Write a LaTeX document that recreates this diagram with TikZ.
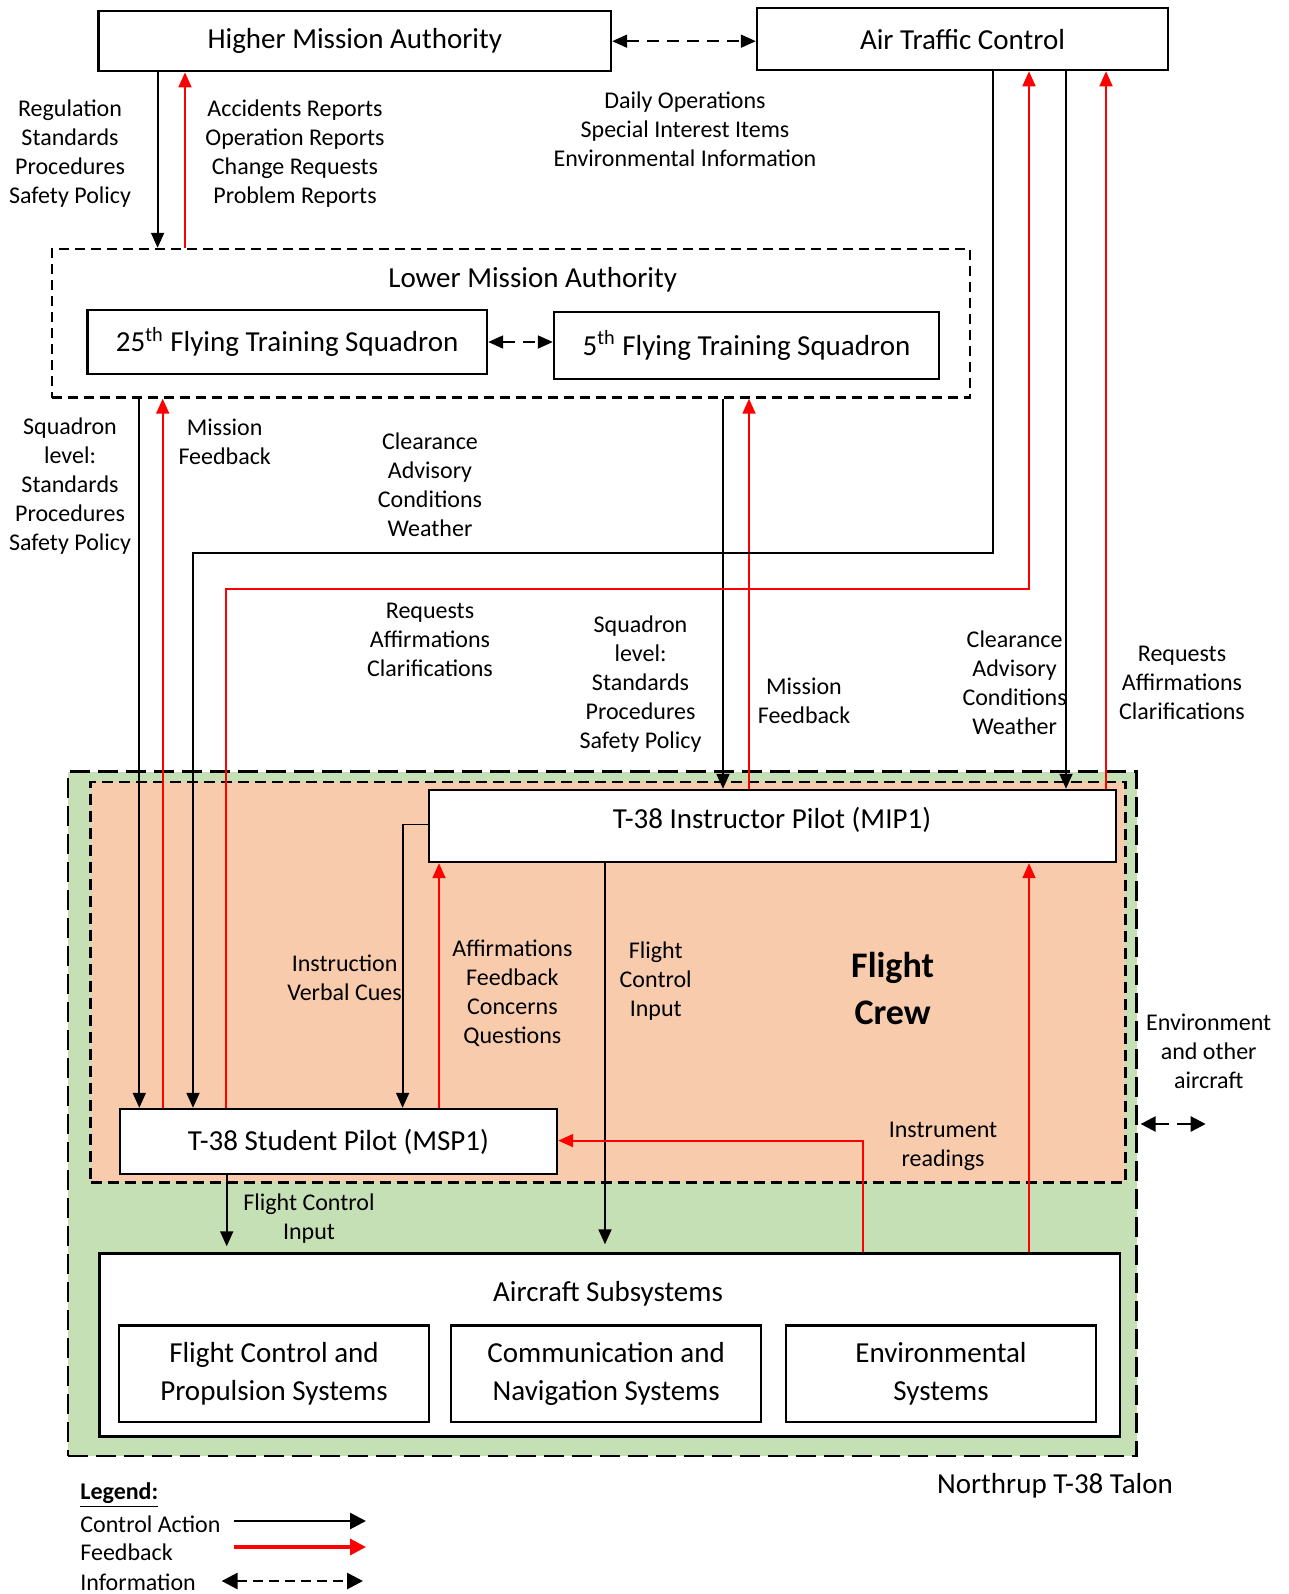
\documentclass[tikz,border=0pt]{standalone}
\usepackage{fontspec}
\setmainfont{Carlito}
\usetikzlibrary{arrows.meta}
\definecolor{crewfill}{RGB}{248,203,173}
\definecolor{craftfill}{RGB}{197,224,180}
\definecolor{fbred}{RGB}{255,0,0}
\begin{document}
\begin{tikzpicture}[x=0.5pt,y=-0.5pt,
  box/.style={draw, line width=1.2pt, fill=white, inner sep=0pt, font=\fontsize{14.5}{19}\selectfont, align=center},
  region/.style={draw, line width=1.2pt, dash pattern=on 5pt off 3pt, inner sep=0pt},
  lbl/.style={font=\fontsize{12}{14.5}\selectfont, align=center, inner sep=0pt},
  big/.style={font=\fontsize{14.5}{19}\selectfont, align=center, inner sep=0pt},
  ctrl/.style={draw=black, line width=0.9pt, -{Triangle[length=7.5pt,width=6.5pt]}},
  fb/.style={draw=fbred, fbred, line width=0.9pt, -{Triangle[length=7.5pt,width=6.5pt]}},
  info/.style={draw=black, line width=0.9pt, dash pattern=on 6pt off 4pt,
    {Triangle[length=7.5pt,width=6.5pt]}-{Triangle[length=7.5pt,width=6.5pt]}},
  envinfo/.style={draw=black, line width=1.2pt, dash pattern=on 7pt off 4pt,
    {Triangle[length=7.5pt,width=7.5pt]}-{Triangle[length=7.5pt,width=7.5pt]}},
  lgctrl/.style={draw=black, line width=1.4pt, -{Triangle[length=8pt,width=8pt]}},
  lgfb/.style={draw=fbred, fbred, line width=1.6pt, -{Triangle[length=8pt,width=8pt]}},
  lginfo/.style={draw=black, line width=1.4pt, dash pattern=on 5pt off 3pt,
    {Triangle[length=8pt,width=8pt]}-{Triangle[length=8pt,width=8pt]}},
]
\useasboundingbox (0,0) rectangle (1289,1594);

% ---- aircraft and crew regions ----
\node[region, dash pattern=on 10pt off 4pt, fill=craftfill, minimum width=534.3pt, minimum height=342.2pt] (grn) at (602.3,1113.8) {};
\node[region, dash pattern=on 5.5pt off 3pt, fill=crewfill, minimum width=517.45pt, minimum height=200.25pt] (crew) at (607.95,982.05) {};

% ---- authorities ----
\node[box, minimum width=256.2pt, minimum height=30pt] (hma) at (354.8,41.2) {Higher Mission Authority};
\node[box, minimum width=205.5pt, minimum height=31pt] (atc) at (962.5,39.1) {Air Traffic Control};
\node[region, minimum width=459.1pt, minimum height=74.25pt] (lma) at (510.9,323.25) {};
\node[big] (lmat) at (532.7,279.5) {Lower Mission Authority};
\node[box, minimum width=199.8pt, minimum height=32pt] (f25) at (287.2,342) {25\textsuperscript{th} Flying Training Squadron};
\node[box, minimum width=192.5pt, minimum height=33.5pt] (f5) at (746.5,345.5) {5\textsuperscript{th} Flying Training Squadron};

% ---- pilots ----
\node[box, minimum width=343.5pt, minimum height=36pt] (ins) at (772.5,826) {};
\node[big] (inst) at (772,820) {T-38 Instructor Pilot (MIP1)};
\node[box, minimum width=218.5pt, minimum height=32.5pt] (stu) at (338.5,1141.5) {T-38 Student Pilot (MSP1)};
\node[font=\bfseries\fontsize{18}{23.5}\selectfont, align=center, inner sep=0pt] (fc) at (892.6,988) {Flight\\Crew};

% ---- aircraft subsystems ----
\node[box, minimum width=510.2pt, minimum height=91.5pt] (acs) at (609.8,1345) {};
\node[big] (acst) at (608,1294) {Aircraft Subsystems};
\node[box, minimum width=155pt, minimum height=48.2pt] (fcp) at (274,1373.8) {Flight Control and\\Propulsion Systems};
\node[box, minimum width=155pt, minimum height=48.2pt] (cns) at (606.2,1373.8) {Communication and\\Navigation Systems};
\node[box, minimum width=155pt, minimum height=48.2pt] (env) at (941,1373.8) {Environmental\\Systems};

% ---- connectors between authorities ----
\draw[info] (hma.east) -- (atc.west |- hma.east);
\draw[info] (f25.east) -- (f5.west |- f25.east);
\draw[ctrl] (hma.south -| 157.6,0) -- (lma.north -| 157.6,0);
\draw[fb] (lma.north -| 185,0) -- (hma.south -| 185,0);

% ---- lower authority to pilots ----
\draw[ctrl] (lma.south -| 139.3,0) -- (stu.north -| 139.3,0);
\draw[fb] (stu.north -| 162.7,0) -- (lma.south -| 162.7,0);
\draw[ctrl] (lma.south -| 723,0) -- (ins.north -| 723,0);
\draw[fb] (ins.north -| 749,0) -- (lma.south -| 749,0);

% ---- air traffic control to pilots ----
\draw[ctrl] (atc.south -| 993,0) -- (993,553) -- (193,553) -- (stu.north -| 193,0);
\draw[fb] (stu.north -| 225.7,0) -- (225.7,588.6) -- (1029,588.6) -- (atc.south -| 1029,0);
\draw[ctrl] (atc.south -| 1066,0) -- (ins.north -| 1066,0);
\draw[fb] (ins.north -| 1106,0) -- (atc.south -| 1106,0);

% ---- inside the cockpit ----
\draw[ctrl] (ins.west |- 0,824.5) -- (402.6,824.5) -- (stu.north -| 402.6,0);
\draw[fb] (stu.north -| 439,0) -- (ins.south -| 439,0);
\draw[ctrl, shorten >=4pt] (ins.south -| 605,0) -- (acs.north -| 605,0);
\draw[ctrl, shorten >=3pt] (stu.south -| 226.7,0) -- (acs.north -| 226.7,0);
\draw[fb] (acs.north -| 863,0) -- (863,1140.6) -- (stu.east |- 0,1140.6);
\draw[fb] (acs.north -| 1029,0) -- (ins.south -| 1029,0);

% ---- environment exchange ----
\coordinate (envL) at (1140.6,1124);
\coordinate (envR) at (1205.7,1124);
\draw[envinfo] (envL) -- (envR);

% ---- connector labels ----
\node[lbl] (l1) at (70,153.5) {Regulation\\Standards\\Procedures\\Safety Policy};
\node[lbl] (l2) at (295,153.5) {Accidents Reports\\Operation Reports\\Change Requests\\Problem Reports};
\node[lbl] (l3) at (685,129.5) {Daily Operations\\Special Interest Items\\Environmental Information};
\node[lbl] (l4) at (70,486) {Squadron\\level:\\Standards\\Procedures\\Safety Policy};
\node[lbl] (l5) at (224.7,442) {Mission\\Feedback};
\node[lbl] (l6) at (430,484.5) {Clearance\\Advisory\\Conditions\\Weather};
\node[lbl] (l7) at (430,639.5) {Requests\\Affirmations\\Clarifications};
\node[lbl] (l8) at (640.5,684) {Squadron\\level:\\Standards\\Procedures\\Safety Policy};
\node[lbl] (l9) at (804,701) {Mission\\Feedback};
\node[lbl] (l10) at (1014.6,683) {Clearance\\Advisory\\Conditions\\Weather};
\node[lbl] (l11) at (1182,683) {Requests\\Affirmations\\Clarifications};
\node[lbl] (l12) at (344.6,978) {Instruction\\Verbal Cues};
\node[lbl] (l13) at (512.4,993) {Affirmations\\Feedback\\Concerns\\Questions};
\node[lbl] (l14) at (655.7,981) {Flight\\Control\\Input};
\node[lbl] (l15) at (943,1146) {Instrument\\readings};
\node[lbl] (l16) at (309,1219) {Flight Control\\Input};
\node[lbl] (l17) at (1208.7,1051) {Environment\\and other\\aircraft};
\node[big] (talon) at (1055,1486) {Northrup T-38 Talon};

% ---- legend ----
\node[lbl, anchor=west] (lg) at (80,1495) {\underline{\textbf{Legend:}}};
\node[lbl, anchor=west] (lgc) at (80,1524) {Control Action};
\node[lbl, anchor=west] (lgf) at (80,1552) {Feedback};
\node[lbl, anchor=west] (lgi) at (80,1582) {Information};
\coordinate (c1a) at (234,1521); \coordinate (c1b) at (366,1521);
\coordinate (c2a) at (234,1547); \coordinate (c2b) at (366,1547);
\coordinate (c3a) at (221.6,1581); \coordinate (c3b) at (363,1581);
\draw[lgctrl] (c1a) -- (c1b);
\draw[lgfb] (c2a) -- (c2b);
\draw[lginfo] (c3a) -- (c3b);
\end{tikzpicture}
\end{document}
